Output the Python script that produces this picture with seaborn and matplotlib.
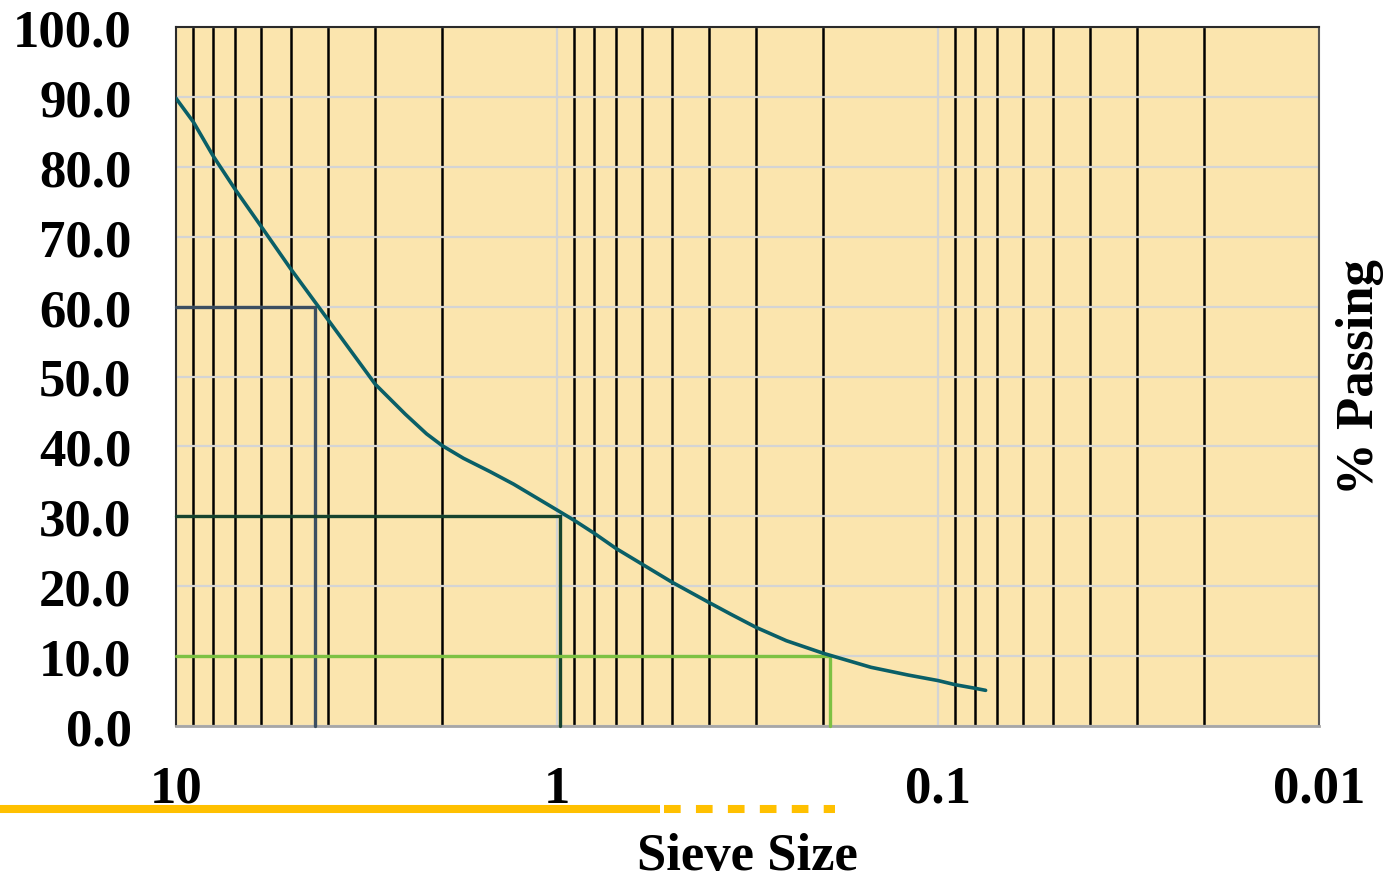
import matplotlib
matplotlib.use("Agg")
import matplotlib.pyplot as plt
import seaborn as sns
import numpy as np
import pandas as pd
from matplotlib.lines import Line2D
from matplotlib.ticker import FixedLocator, FuncFormatter, LogLocator

# ---------------- data ----------------
sieve_size = [10, 9, 8, 7, 6, 5, 4, 3, 2.5, 2.2, 2, 1.76, 1.5, 1.3, 1, 0.9, 0.8,
              0.7, 0.6, 0.5, 0.4, 0.35, 0.3, 0.25, 0.2, 0.15, 0.12, 0.1, 0.09,
              0.08, 0.075]
percent_passing = [89.8, 86.4, 81.6, 76.8, 71.6, 65.4, 58.2, 48.9, 44.6, 41.8,
                   40.1, 38.3, 36.4, 34.6, 30.9, 29.4, 27.6, 25.4, 23.2, 20.6,
                   17.7, 16.0, 14.1, 12.2, 10.4, 8.4, 7.3, 6.5, 5.9, 5.4, 5.1]

d_names = ["D60", "D30", "D10"]
d_sizes = [4.31, 0.982, 0.192]
d_percent = [60, 30, 10]
d_colors = ["#3B4E61", "#16432E", "#7DC142"]

x_ticks = [10, 1, 0.1, 0.01]
x_tick_labels = ["10", "1", "0.1", "0.01"]
y_ticks = list(range(0, 101, 10))

# ---------------- style ----------------
sns.set_theme(style="white")
plt.rcParams["font.family"] = ["Liberation Serif", "DejaVu Serif"]
plt.rcParams["font.weight"] = "bold"
plt.rcParams["text.color"] = "black"
plt.rcParams["axes.labelcolor"] = "black"
plt.rcParams["xtick.color"] = "black"
plt.rcParams["ytick.color"] = "black"
plt.rcParams["lines.scale_dashes"] = False

fig = plt.figure(figsize=(13.9, 8.79), dpi=100)
ax = fig.add_axes([176 / 1390, 1 - 727 / 879, (1319 - 176) / 1390, (727 - 28) / 879])
ax.set_facecolor("#FBE5AE")

df = pd.DataFrame({"size": sieve_size, "passing": percent_passing})

ax.set_xscale("log")
ax.set_xlim(10, 0.01)
ax.set_ylim(0, 100)

# grid: major gray, minor black vertical
ax.xaxis.set_major_locator(FixedLocator(x_ticks))
ax.xaxis.set_minor_locator(LogLocator(base=10, subs=np.arange(2, 10)))
ax.xaxis.set_major_formatter(FuncFormatter(lambda v, p: x_tick_labels[x_ticks.index(v)] if v in x_ticks else ""))
ax.xaxis.set_minor_formatter(FuncFormatter(lambda v, p: ""))
ax.set_yticks(y_ticks)
ax.yaxis.set_major_formatter(FuncFormatter(lambda v, p: f"{v:.1f}"))

ax.grid(which="major", axis="both", color="#D4D4D4", lw=1.6, zorder=0)
ax.grid(which="minor", axis="x", color="#000000", lw=1.8, zorder=0)
ax.set_axisbelow(True)

# D lines
for name, s, p, c in zip(d_names, d_sizes, d_percent, d_colors):
    ax.plot([10, s, s], [p, p, 0], color=c, lw=2.4, zorder=3, clip_on=False,
            solid_joinstyle="miter")

# gradation curve
sns.lineplot(data=df, x="size", y="passing", ax=ax, color="#0A5F67", lw=2.6,
             sort=False, zorder=4, estimator=None)

ax.tick_params(axis="both", which="both", length=0)
ax.tick_params(axis="x", which="major", pad=28, labelsize=38, labelcolor="black")
ax.tick_params(axis="y", which="major", pad=32, labelsize=38, labelcolor="black")
for lab in ax.get_xticklabels() + ax.get_yticklabels():
    lab.set_fontweight("bold")

ax.set_xlabel("Sieve Size", fontsize=38, fontweight="bold", labelpad=14, color="black")
ax.set_ylabel("% Passing", fontsize=38, fontweight="bold", labelpad=12, color="black")
ax.yaxis.set_label_position("right")

for side in ["top", "left", "right"]:
    ax.spines[side].set_visible(True)
    ax.spines[side].set_color("#2A2A2A")
    ax.spines[side].set_linewidth(1.5)
ax.spines["right"].set_color("#555555")
ax.spines["bottom"].set_color("#A6A6A6")
ax.spines["bottom"].set_linewidth(2)

# yellow accent line under the axis
yl = 1 - 810 / 879
fig.add_artist(Line2D([0, 660 / 1390], [yl, yl], color="#FFC000", lw=5.8,
                      transform=fig.transFigure, solid_capstyle="butt"))
fig.add_artist(Line2D([664 / 1390, 835 / 1390], [yl, yl], color="#FFC000", lw=5.8,
                      transform=fig.transFigure, dashes=(12, 11),
                      dash_capstyle="butt"))

fig.savefig("out.png", dpi=100)
